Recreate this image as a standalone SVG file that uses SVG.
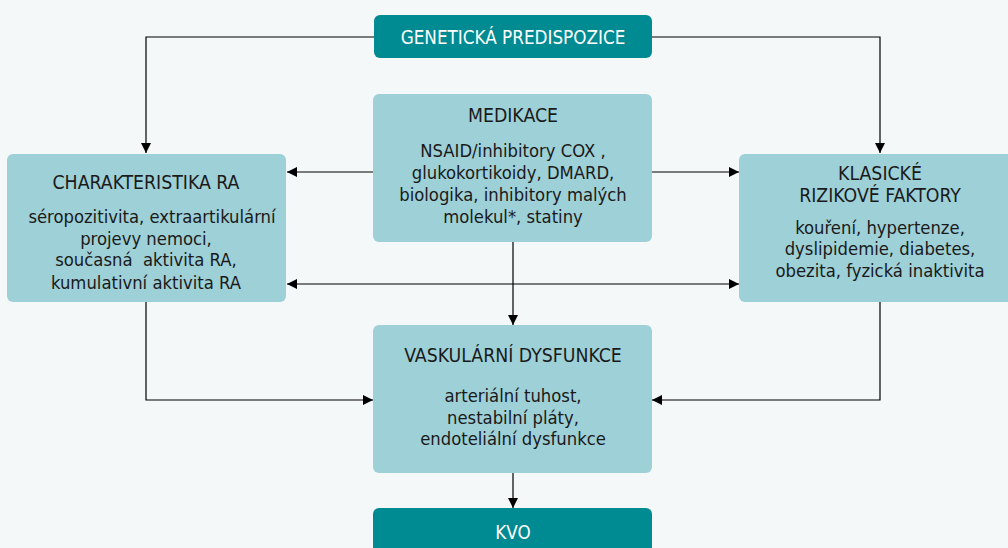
<svg xmlns="http://www.w3.org/2000/svg" width="1008" height="548" viewBox="0 0 1008 548">
<defs>
<style>
.bg{fill:#f4f8f8}
.dark{fill:#008a92}
.light{fill:#9ed0d7}
text{font-family:"Liberation Sans Narrow","DejaVu Sans Condensed","Liberation Sans",sans-serif;text-anchor:middle;dominant-baseline:central}
.t{font-size:19.3px;fill:#1a1a1a}
.b{font-size:18.3px;fill:#1a1a1a}
.w{font-size:18.7px;fill:#ffffff}
.c{fill:none;stroke:#000;stroke-width:1.2}
</style>
<marker id="ah" viewBox="0 0 10 10" refX="10" refY="5" markerWidth="10" markerHeight="10" markerUnits="userSpaceOnUse" orient="auto-start-reverse">
<path d="M0,0 L10,5 L0,10 z" fill="#000"/>
</marker>
</defs>
<rect class="bg" x="0" y="0" width="1008" height="548"/>
<g id="connectors">
<path class="c" d="M374,37 H146 V153" marker-end="url(#ah)"/>
<path class="c" d="M652,37 H880 V153" marker-end="url(#ah)"/>
<path class="c" d="M373,172 H287" marker-end="url(#ah)"/>
<path class="c" d="M652,172 H739" marker-end="url(#ah)"/>
<path class="c" d="M287,284 H739" marker-start="url(#ah)" marker-end="url(#ah)"/>
<path class="c" d="M513,242 V325" marker-end="url(#ah)"/>
<path class="c" d="M146,302 V400 H373" marker-end="url(#ah)"/>
<path class="c" d="M880,302 V400 H652" marker-end="url(#ah)"/>
<path class="c" d="M513,473 V508" marker-end="url(#ah)"/>
</g>
<g id="genetic">
<rect class="dark" x="374" y="15" width="278" height="43" rx="6"/>
<text class="w" x="513" y="37">GENETICKÁ PREDISPOZICE</text>
</g>
<g id="medikace">
<rect class="light" x="373" y="94" width="279" height="148" rx="6"/>
<text class="t" x="513" y="115">MEDIKACE</text>
<text class="b" x="513" y="150">NSAID/inhibitory COX ,</text>
<text class="b" x="513" y="172">glukokortikoidy, DMARD,</text>
<text class="b" x="513" y="194">biologika, inhibitory malých</text>
<text class="b" x="513" y="216">molekul*, statiny</text>
</g>
<g id="charakteristika">
<rect class="light" x="7" y="154" width="279" height="148" rx="6"/>
<text class="t" x="146" y="182">CHARAKTERISTIKA RA</text>
<text class="b" x="152" y="216">séropozitivita, extraartikulární</text>
<text class="b" x="146" y="238">projevy nemoci,</text>
<text class="b" x="146" y="259">současná&#160; aktivita RA,</text>
<text class="b" x="146" y="282">kumulativní aktivita RA</text>
</g>
<g id="klasicke">
<rect class="light" x="739" y="154" width="280" height="148" rx="6"/>
<text class="t" x="880" y="173">KLASICKÉ</text>
<text class="t" x="880" y="195">RIZIKOVÉ FAKTORY</text>
<text class="b" x="880" y="227">kouření, hypertenze,</text>
<text class="b" x="880" y="248">dyslipidemie, diabetes,</text>
<text class="b" x="880" y="270">obezita, fyzická inaktivita</text>
</g>
<g id="vaskularni">
<rect class="light" x="373" y="325" width="279" height="148" rx="6"/>
<text class="t" x="513" y="355">VASKULÁRNÍ DYSFUNKCE</text>
<text class="b" x="513" y="395">arteriální tuhost,</text>
<text class="b" x="513" y="417">nestabilní pláty,</text>
<text class="b" x="513" y="438">endoteliální dysfunkce</text>
</g>
<g id="kvo">
<rect class="dark" x="373" y="508" width="279" height="50" rx="6"/>
<text class="w" x="513" y="532">KVO</text>
</g>
</svg>
